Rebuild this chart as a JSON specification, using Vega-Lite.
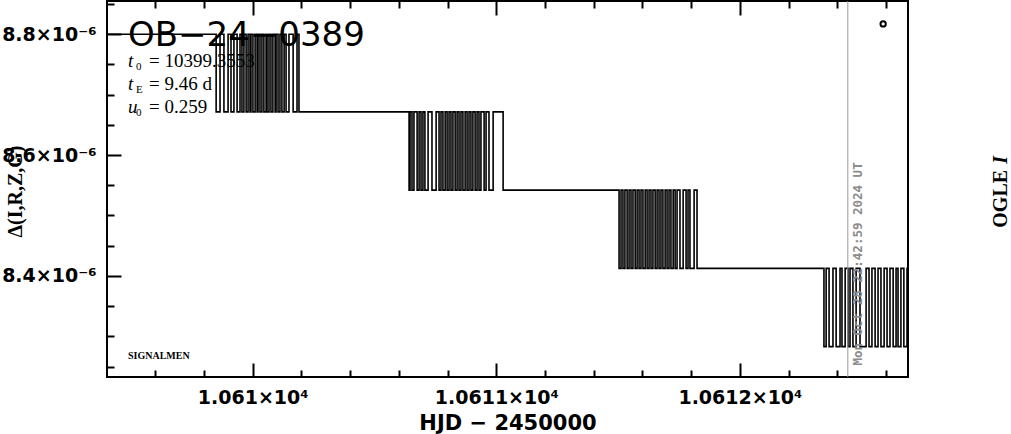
{
"$schema": "https://vega.github.io/schema/vega-lite/v6.json",
"width": 801, "height": 376,
"autosize": {"type": "none"},
"padding": {"left": 107, "top": 1, "right": 103, "bottom": 57},
"background": "white",
"config": {"view": {"stroke": "black", "strokeWidth": 2}, "axis": {"domain": false, "grid": false, "tickColor": "black", "tickWidth": 2, "labelColor": "black", "titleColor": "black"}},
"resolve": {"axis": {"x": "independent", "y": "independent"}},
"datasets": {
"pts": [
{"t":10609.2,"d":8.8e-6},
{"t":10609.850,"d":8.8e-6},{"t":10609.850,"d":8.6715e-6},
{"t":10609.866,"d":8.6715e-6},{"t":10609.866,"d":8.8e-6},
{"t":10609.882,"d":8.8e-6},{"t":10609.882,"d":8.6715e-6},
{"t":10609.899,"d":8.6715e-6},{"t":10609.899,"d":8.8e-6},
{"t":10609.911,"d":8.8e-6},{"t":10609.911,"d":8.6715e-6},
{"t":10609.923,"d":8.6715e-6},{"t":10609.923,"d":8.8e-6},
{"t":10609.936,"d":8.8e-6},{"t":10609.936,"d":8.6715e-6},
{"t":10609.948,"d":8.6715e-6},{"t":10609.948,"d":8.8e-6},
{"t":10609.956,"d":8.8e-6},{"t":10609.956,"d":8.6715e-6},
{"t":10609.964,"d":8.6715e-6},{"t":10609.964,"d":8.8e-6},
{"t":10609.973,"d":8.8e-6},{"t":10609.973,"d":8.6715e-6},
{"t":10609.981,"d":8.6715e-6},{"t":10609.981,"d":8.8e-6},
{"t":10609.989,"d":8.8e-6},{"t":10609.989,"d":8.6715e-6},
{"t":10609.993,"d":8.6715e-6},{"t":10609.993,"d":8.8e-6},
{"t":10610.001,"d":8.8e-6},{"t":10610.001,"d":8.6715e-6},
{"t":10610.010,"d":8.6715e-6},{"t":10610.010,"d":8.8e-6},
{"t":10610.018,"d":8.8e-6},{"t":10610.018,"d":8.6715e-6},
{"t":10610.022,"d":8.6715e-6},{"t":10610.022,"d":8.8e-6},
{"t":10610.030,"d":8.8e-6},{"t":10610.030,"d":8.6715e-6},
{"t":10610.038,"d":8.6715e-6},{"t":10610.038,"d":8.8e-6},
{"t":10610.046,"d":8.8e-6},{"t":10610.046,"d":8.6715e-6},
{"t":10610.055,"d":8.6715e-6},{"t":10610.055,"d":8.8e-6},
{"t":10610.059,"d":8.8e-6},{"t":10610.059,"d":8.6715e-6},
{"t":10610.067,"d":8.6715e-6},{"t":10610.067,"d":8.8e-6},
{"t":10610.075,"d":8.8e-6},{"t":10610.075,"d":8.6715e-6},
{"t":10610.083,"d":8.6715e-6},{"t":10610.083,"d":8.8e-6},
{"t":10610.092,"d":8.8e-6},{"t":10610.092,"d":8.6715e-6},
{"t":10610.096,"d":8.6715e-6},{"t":10610.096,"d":8.8e-6},
{"t":10610.104,"d":8.8e-6},{"t":10610.104,"d":8.6715e-6},
{"t":10610.112,"d":8.6715e-6},{"t":10610.112,"d":8.8e-6},
{"t":10610.120,"d":8.8e-6},{"t":10610.120,"d":8.6715e-6},
{"t":10610.129,"d":8.6715e-6},{"t":10610.129,"d":8.8e-6},
{"t":10610.137,"d":8.8e-6},{"t":10610.137,"d":8.6715e-6},
{"t":10610.149,"d":8.6715e-6},{"t":10610.149,"d":8.8e-6},
{"t":10610.166,"d":8.8e-6},{"t":10610.166,"d":8.6715e-6},
{"t":10610.182,"d":8.6715e-6},{"t":10610.182,"d":8.8e-6},
{"t":10610.190,"d":8.8e-6},{"t":10610.190,"d":8.6715e-6},
{"t":10610.642,"d":8.6715e-6},{"t":10610.642,"d":8.542e-6},
{"t":10610.646,"d":8.542e-6},{"t":10610.646,"d":8.6715e-6},
{"t":10610.654,"d":8.6715e-6},{"t":10610.654,"d":8.542e-6},
{"t":10610.662,"d":8.542e-6},{"t":10610.662,"d":8.6715e-6},
{"t":10610.675,"d":8.6715e-6},{"t":10610.675,"d":8.542e-6},
{"t":10610.683,"d":8.542e-6},{"t":10610.683,"d":8.6715e-6},
{"t":10610.691,"d":8.6715e-6},{"t":10610.691,"d":8.542e-6},
{"t":10610.699,"d":8.542e-6},{"t":10610.699,"d":8.6715e-6},
{"t":10610.707,"d":8.6715e-6},{"t":10610.707,"d":8.542e-6},
{"t":10610.720,"d":8.542e-6},{"t":10610.720,"d":8.6715e-6},
{"t":10610.736,"d":8.6715e-6},{"t":10610.736,"d":8.542e-6},
{"t":10610.753,"d":8.542e-6},{"t":10610.753,"d":8.6715e-6},
{"t":10610.765,"d":8.6715e-6},{"t":10610.765,"d":8.542e-6},
{"t":10610.773,"d":8.542e-6},{"t":10610.773,"d":8.6715e-6},
{"t":10610.781,"d":8.6715e-6},{"t":10610.781,"d":8.542e-6},
{"t":10610.790,"d":8.542e-6},{"t":10610.790,"d":8.6715e-6},
{"t":10610.798,"d":8.6715e-6},{"t":10610.798,"d":8.542e-6},
{"t":10610.806,"d":8.542e-6},{"t":10610.806,"d":8.6715e-6},
{"t":10610.814,"d":8.6715e-6},{"t":10610.814,"d":8.542e-6},
{"t":10610.822,"d":8.542e-6},{"t":10610.822,"d":8.6715e-6},
{"t":10610.831,"d":8.6715e-6},{"t":10610.831,"d":8.542e-6},
{"t":10610.839,"d":8.542e-6},{"t":10610.839,"d":8.6715e-6},
{"t":10610.847,"d":8.6715e-6},{"t":10610.847,"d":8.542e-6},
{"t":10610.855,"d":8.542e-6},{"t":10610.855,"d":8.6715e-6},
{"t":10610.863,"d":8.6715e-6},{"t":10610.863,"d":8.542e-6},
{"t":10610.872,"d":8.542e-6},{"t":10610.872,"d":8.6715e-6},
{"t":10610.880,"d":8.6715e-6},{"t":10610.880,"d":8.542e-6},
{"t":10610.888,"d":8.542e-6},{"t":10610.888,"d":8.6715e-6},
{"t":10610.896,"d":8.6715e-6},{"t":10610.896,"d":8.542e-6},
{"t":10610.904,"d":8.542e-6},{"t":10610.904,"d":8.6715e-6},
{"t":10610.913,"d":8.6715e-6},{"t":10610.913,"d":8.542e-6},
{"t":10610.921,"d":8.542e-6},{"t":10610.921,"d":8.6715e-6},
{"t":10610.929,"d":8.6715e-6},{"t":10610.929,"d":8.542e-6},
{"t":10610.937,"d":8.542e-6},{"t":10610.937,"d":8.6715e-6},
{"t":10610.950,"d":8.6715e-6},{"t":10610.950,"d":8.542e-6},
{"t":10610.958,"d":8.542e-6},{"t":10610.958,"d":8.6715e-6},
{"t":10610.970,"d":8.6715e-6},{"t":10610.970,"d":8.542e-6},
{"t":10610.987,"d":8.542e-6},{"t":10610.987,"d":8.6715e-6},
{"t":10611.028,"d":8.6715e-6},{"t":10611.028,"d":8.542e-6},
{"t":10611.504,"d":8.542e-6},{"t":10611.504,"d":8.4125e-6},
{"t":10611.512,"d":8.4125e-6},{"t":10611.512,"d":8.542e-6},
{"t":10611.520,"d":8.542e-6},{"t":10611.520,"d":8.4125e-6},
{"t":10611.528,"d":8.4125e-6},{"t":10611.528,"d":8.542e-6},
{"t":10611.537,"d":8.542e-6},{"t":10611.537,"d":8.4125e-6},
{"t":10611.545,"d":8.4125e-6},{"t":10611.545,"d":8.542e-6},
{"t":10611.553,"d":8.542e-6},{"t":10611.553,"d":8.4125e-6},
{"t":10611.561,"d":8.4125e-6},{"t":10611.561,"d":8.542e-6},
{"t":10611.570,"d":8.542e-6},{"t":10611.570,"d":8.4125e-6},
{"t":10611.578,"d":8.4125e-6},{"t":10611.578,"d":8.542e-6},
{"t":10611.586,"d":8.542e-6},{"t":10611.586,"d":8.4125e-6},
{"t":10611.594,"d":8.4125e-6},{"t":10611.594,"d":8.542e-6},
{"t":10611.602,"d":8.542e-6},{"t":10611.602,"d":8.4125e-6},
{"t":10611.611,"d":8.4125e-6},{"t":10611.611,"d":8.542e-6},
{"t":10611.619,"d":8.542e-6},{"t":10611.619,"d":8.4125e-6},
{"t":10611.627,"d":8.4125e-6},{"t":10611.627,"d":8.542e-6},
{"t":10611.635,"d":8.542e-6},{"t":10611.635,"d":8.4125e-6},
{"t":10611.643,"d":8.4125e-6},{"t":10611.643,"d":8.542e-6},
{"t":10611.652,"d":8.542e-6},{"t":10611.652,"d":8.4125e-6},
{"t":10611.660,"d":8.4125e-6},{"t":10611.660,"d":8.542e-6},
{"t":10611.668,"d":8.542e-6},{"t":10611.668,"d":8.4125e-6},
{"t":10611.676,"d":8.4125e-6},{"t":10611.676,"d":8.542e-6},
{"t":10611.684,"d":8.542e-6},{"t":10611.684,"d":8.4125e-6},
{"t":10611.693,"d":8.4125e-6},{"t":10611.693,"d":8.542e-6},
{"t":10611.701,"d":8.542e-6},{"t":10611.701,"d":8.4125e-6},
{"t":10611.709,"d":8.4125e-6},{"t":10611.709,"d":8.542e-6},
{"t":10611.717,"d":8.542e-6},{"t":10611.717,"d":8.4125e-6},
{"t":10611.726,"d":8.4125e-6},{"t":10611.726,"d":8.542e-6},
{"t":10611.734,"d":8.542e-6},{"t":10611.734,"d":8.4125e-6},
{"t":10611.742,"d":8.4125e-6},{"t":10611.742,"d":8.542e-6},
{"t":10611.754,"d":8.542e-6},{"t":10611.754,"d":8.4125e-6},
{"t":10611.767,"d":8.4125e-6},{"t":10611.767,"d":8.542e-6},
{"t":10611.779,"d":8.542e-6},{"t":10611.779,"d":8.4125e-6},
{"t":10611.787,"d":8.4125e-6},{"t":10611.787,"d":8.542e-6},
{"t":10611.795,"d":8.542e-6},{"t":10611.795,"d":8.4125e-6},
{"t":10611.812,"d":8.4125e-6},{"t":10611.812,"d":8.542e-6},
{"t":10611.824,"d":8.542e-6},{"t":10611.824,"d":8.4125e-6},
{"t":10612.345,"d":8.4125e-6},{"t":10612.345,"d":8.283e-6},
{"t":10612.354,"d":8.283e-6},{"t":10612.354,"d":8.4125e-6},
{"t":10612.366,"d":8.4125e-6},{"t":10612.366,"d":8.283e-6},
{"t":10612.382,"d":8.283e-6},{"t":10612.382,"d":8.4125e-6},
{"t":10612.395,"d":8.4125e-6},{"t":10612.395,"d":8.283e-6},
{"t":10612.411,"d":8.283e-6},{"t":10612.411,"d":8.4125e-6},
{"t":10612.419,"d":8.4125e-6},{"t":10612.419,"d":8.283e-6},
{"t":10612.432,"d":8.283e-6},{"t":10612.432,"d":8.4125e-6},
{"t":10612.444,"d":8.4125e-6},{"t":10612.444,"d":8.283e-6},
{"t":10612.452,"d":8.283e-6},{"t":10612.452,"d":8.4125e-6},
{"t":10612.464,"d":8.4125e-6},{"t":10612.464,"d":8.283e-6},
{"t":10612.477,"d":8.283e-6},{"t":10612.477,"d":8.4125e-6},
{"t":10612.493,"d":8.4125e-6},{"t":10612.493,"d":8.283e-6},
{"t":10612.518,"d":8.283e-6},{"t":10612.518,"d":8.4125e-6},
{"t":10612.530,"d":8.4125e-6},{"t":10612.530,"d":8.283e-6},
{"t":10612.542,"d":8.283e-6},{"t":10612.542,"d":8.4125e-6},
{"t":10612.555,"d":8.4125e-6},{"t":10612.555,"d":8.283e-6},
{"t":10612.567,"d":8.283e-6},{"t":10612.567,"d":8.4125e-6},
{"t":10612.579,"d":8.4125e-6},{"t":10612.579,"d":8.283e-6},
{"t":10612.592,"d":8.283e-6},{"t":10612.592,"d":8.4125e-6},
{"t":10612.604,"d":8.4125e-6},{"t":10612.604,"d":8.283e-6},
{"t":10612.616,"d":8.283e-6},{"t":10612.616,"d":8.4125e-6},
{"t":10612.629,"d":8.4125e-6},{"t":10612.629,"d":8.283e-6},
{"t":10612.641,"d":8.283e-6},{"t":10612.641,"d":8.4125e-6},
{"t":10612.649,"d":8.4125e-6},{"t":10612.649,"d":8.283e-6},
{"t":10612.661,"d":8.283e-6},{"t":10612.661,"d":8.4125e-6},
{"t":10612.673,"d":8.4125e-6},{"t":10612.673,"d":8.283e-6},
{"t":10612.686,"d":8.283e-6},{"t":10612.686,"d":8.4125e-6},
{"t":10612.8,"d":8.4125e-6}
],
"notes": [
{"k":"title","t":10609.488,"d":8.7806e-6,"label":"OB−24−0389"},
{"k":"param","t":10609.488,"d":8.7459e-6,"sym":"t","sub":"0","label":"= 10399.3553"},
{"k":"param","t":10609.488,"d":8.7079e-6,"sym":"t","sub":"E","label":"= 9.46 d"},
{"k":"param","t":10609.488,"d":8.6699e-6,"sym":"u","sub":"0","label":"= 0.259"},
{"k":"tag","t":10609.488,"d":8.2633e-6,"label":"SIGNALMEN"},
{"k":"now","t":10612.443,"d":8.5e-6,"label":""},
{"k":"date","t":10612.501,"d":8.2517e-6,"label":"Mon Oct 28 22:42:59 2024 UT"},
{"k":"sym","t":10612.588,"d":8.817e-6,"label":"o"},
{"k":"site","t":10613.095,"d":8.4798e-6,"label":"OGLE"},
{"k":"band","t":10613.095,"d":8.5856e-6,"label":"I"}
]
},
"layer": [
{
"data": {"name": "notes"},
"transform": [{"filter": "datum.k === 'title'"}],
"mark": {"type": "text", "font": "DejaVu Sans", "fontSize": 34, "align": "left", "baseline": "alphabetic", "color": "black"},
"encoding": {
"x": {"field": "t", "type": "quantitative", "scale": {"domain": [10609.402, 10612.69], "nice": false, "zero": false}, "axis": {"orient": "bottom", "values": [10610, 10611, 10612], "labels": false, "tickSize": -14, "title": null}},
"y": {"field": "d", "type": "quantitative", "scale": {"domain": [8.2327e-6, 8.855e-6], "nice": false, "zero": false}, "axis": {"orient": "left", "values": [8.4e-6, 8.6e-6, 8.8e-6], "labels": false, "tickSize": -14, "title": null}},
"text": {"field": "label"}
}
},
{
"data": {"name": "notes"},
"transform": [{"filter": "datum.k === 'param'"}],
"mark": {"type": "text", "font": "Liberation Serif", "fontStyle": "italic", "fontSize": 19, "align": "left", "baseline": "alphabetic", "color": "black"},
"encoding": {
"x": {"field": "t", "type": "quantitative", "scale": {"domain": [10609.402, 10612.69], "nice": false, "zero": false}, "axis": {"orient": "top", "values": [10610, 10611, 10612], "labels": false, "tickSize": -14, "title": null}},
"y": {"field": "d", "type": "quantitative", "scale": {"domain": [8.2327e-6, 8.855e-6], "nice": false, "zero": false}, "axis": null},
"text": {"field": "sym"}
}
},
{
"data": {"name": "notes"},
"transform": [{"filter": "datum.k === 'param'"}],
"mark": {"type": "text", "font": "Liberation Serif", "fontSize": 11, "align": "left", "baseline": "alphabetic", "dx": 8, "dy": 3, "color": "black"},
"encoding": {
"x": {"field": "t", "type": "quantitative", "scale": {"domain": [10609.402, 10612.69], "nice": false, "zero": false}, "axis": {"orient": "top", "values": [10609.4, 10609.6, 10609.8, 10610.2, 10610.4, 10610.6, 10610.8, 10611.2, 10611.4, 10611.6, 10611.8, 10612.2, 10612.4, 10612.6], "labels": false, "tickSize": -7, "title": null}},
"y": {"field": "d", "type": "quantitative", "scale": {"domain": [8.2327e-6, 8.855e-6], "nice": false, "zero": false}, "axis": null},
"text": {"field": "sub"}
}
},
{
"data": {"name": "notes"},
"transform": [{"filter": "datum.k === 'param'"}],
"mark": {"type": "text", "font": "Liberation Serif", "fontSize": 19, "align": "left", "baseline": "alphabetic", "dx": 21, "color": "black"},
"encoding": {
"x": {"field": "t", "type": "quantitative", "scale": {"domain": [10609.402, 10612.69], "nice": false, "zero": false}, "axis": null},
"y": {"field": "d", "type": "quantitative", "scale": {"domain": [8.2327e-6, 8.855e-6], "nice": false, "zero": false}, "axis": null},
"text": {"field": "label"}
}
},
{
"data": {"name": "notes"},
"transform": [{"filter": "datum.k === 'tag'"}],
"mark": {"type": "text", "font": "Liberation Serif", "fontWeight": "bold", "fontSize": 10, "align": "left", "baseline": "alphabetic", "color": "black"},
"encoding": {
"x": {"field": "t", "type": "quantitative", "scale": {"domain": [10609.402, 10612.69], "nice": false, "zero": false}, "axis": {"orient": "bottom", "values": [10609.4, 10609.6, 10609.8, 10610.2, 10610.4, 10610.6, 10610.8, 10611.2, 10611.4, 10611.6, 10611.8, 10612.2, 10612.4, 10612.6], "labels": false, "tickSize": -7, "title": null}},
"y": {"field": "d", "type": "quantitative", "scale": {"domain": [8.2327e-6, 8.855e-6], "nice": false, "zero": false}, "axis": {"orient": "left", "values": [8.25e-6, 8.3e-6, 8.35e-6, 8.45e-6, 8.5e-6, 8.55e-6, 8.65e-6, 8.7e-6, 8.75e-6, 8.85e-6], "labels": false, "tickSize": -7, "title": null}},
"text": {"field": "label"}
}
},
{
"data": {"name": "pts"},
"mark": {"type": "line", "color": "black", "strokeWidth": 1.6, "clip": true, "interpolate": "linear"},
"encoding": {
"x": {"field": "t", "type": "quantitative", "scale": {"domain": [10609.402, 10612.69], "nice": false, "zero": false}, "axis": {"orient": "bottom", "values": [10610, 10611, 10612], "ticks": false, "labelExpr": "format(datum.value / 10000, '.4~f') + '×10⁴'", "labelFont": "DejaVu Sans", "labelFontWeight": "bold", "labelFontSize": 19, "labelPadding": 11, "labelFlush": false, "labelOverlap": false, "title": "HJD − 2450000", "titleFont": "DejaVu Sans", "titleFontWeight": "bold", "titleFontSize": 21, "titleY": 52, "titleBaseline": "alphabetic"}},
"y": {"field": "d", "type": "quantitative", "scale": {"domain": [8.2327e-6, 8.855e-6], "nice": false, "zero": false}, "axis": {"orient": "left", "values": [8.4e-6, 8.6e-6, 8.8e-6], "ticks": false, "labelExpr": "format(datum.value * 1000000, '.1f') + '×10⁻⁶'", "labelFont": "DejaVu Sans", "labelFontWeight": "bold", "labelFontSize": 19, "labelPadding": 11, "labelFlush": false, "labelOverlap": false, "title": "Δ(I,R,Z,G)", "titleFont": "Liberation Serif", "titleFontWeight": "bold", "titleFontSize": 20, "titleAngle": 270, "titleX": -92, "titleY": 190, "titleAlign": "center", "titleBaseline": "middle"}},
"order": {"value": null}
}
},
{
"data": {"name": "notes"},
"transform": [{"filter": "datum.k === 'now'"}],
"mark": {"type": "rule", "color": "#999999", "strokeWidth": 1},
"encoding": {
"x": {"field": "t", "type": "quantitative", "scale": {"domain": [10609.402, 10612.69], "nice": false, "zero": false}, "axis": null}
}
},
{
"data": {"name": "notes"},
"transform": [{"filter": "datum.k === 'date'"}],
"mark": {"type": "text", "font": "DejaVu Sans Mono", "fontWeight": "bold", "fontSize": 12.5, "angle": 270, "align": "left", "baseline": "alphabetic", "color": "#8c8c8c"},
"encoding": {
"x": {"field": "t", "type": "quantitative", "scale": {"domain": [10609.402, 10612.69], "nice": false, "zero": false}, "axis": null},
"y": {"field": "d", "type": "quantitative", "scale": {"domain": [8.2327e-6, 8.855e-6], "nice": false, "zero": false}, "axis": null},
"text": {"field": "label"}
}
},
{
"data": {"name": "notes"},
"transform": [{"filter": "datum.k === 'sym'"}],
"mark": {"type": "point", "shape": "circle", "size": 28, "filled": false, "color": "black", "strokeWidth": 2, "opacity": 1},
"encoding": {
"x": {"field": "t", "type": "quantitative", "scale": {"domain": [10609.402, 10612.69], "nice": false, "zero": false}, "axis": null},
"y": {"field": "d", "type": "quantitative", "scale": {"domain": [8.2327e-6, 8.855e-6], "nice": false, "zero": false}, "axis": null}
}
},
{
"data": {"name": "notes"},
"transform": [{"filter": "datum.k === 'site'"}],
"mark": {"type": "text", "font": "Liberation Serif", "fontWeight": "bold", "fontSize": 20, "angle": 270, "align": "left", "baseline": "alphabetic", "color": "black"},
"encoding": {
"x": {"field": "t", "type": "quantitative", "scale": {"domain": [10609.402, 10612.69], "nice": false, "zero": false}, "axis": null},
"y": {"field": "d", "type": "quantitative", "scale": {"domain": [8.2327e-6, 8.855e-6], "nice": false, "zero": false}, "axis": null},
"text": {"field": "label"}
}
},
{
"data": {"name": "notes"},
"transform": [{"filter": "datum.k === 'band'"}],
"mark": {"type": "text", "font": "Liberation Serif", "fontWeight": "bold", "fontStyle": "italic", "fontSize": 20, "angle": 270, "align": "left", "baseline": "alphabetic", "color": "black"},
"encoding": {
"x": {"field": "t", "type": "quantitative", "scale": {"domain": [10609.402, 10612.69], "nice": false, "zero": false}, "axis": null},
"y": {"field": "d", "type": "quantitative", "scale": {"domain": [8.2327e-6, 8.855e-6], "nice": false, "zero": false}, "axis": null},
"text": {"field": "label"}
}
}
]
}
